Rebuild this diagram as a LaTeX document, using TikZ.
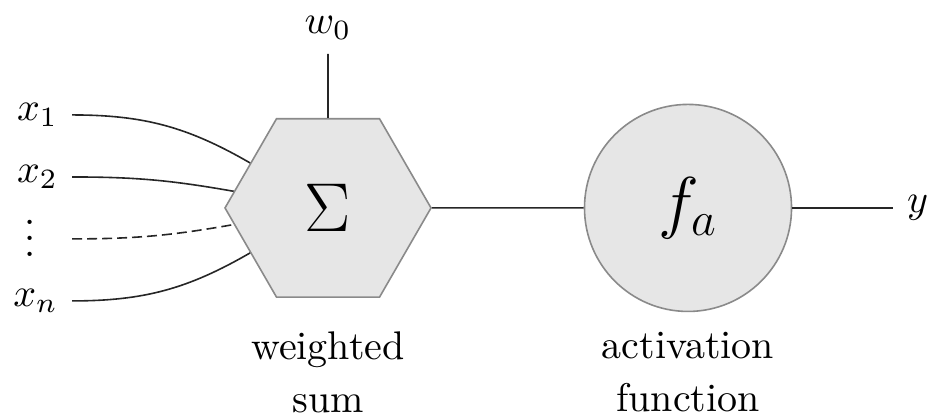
\documentclass[tikz,border=0pt]{standalone}
\usepackage{amsmath}
\usepackage{tikz}
\usetikzlibrary{shapes.geometric,positioning}
\definecolor{cellfill}{HTML}{E6E6E6}
\definecolor{celledge}{HTML}{8A8A8A}
\tikzset{sumnode/.style={regular polygon,regular polygon sides=6,minimum size=1.81cm,inner sep=0pt,draw=celledge,fill=cellfill,font=\fontsize{18.5}{22}\selectfont},
  actnode/.style={circle,minimum size=1.819cm,inner sep=0pt,draw=celledge,fill=cellfill,font=\fontsize{18.5}{22}\selectfont},
  lbltext/.style={align=center,font=\fontsize{10}{13.4}\selectfont},
  wire/.style={draw=black!85}}

\begin{document}
\begin{tikzpicture}
\useasboundingbox (-2.882,-1.836) rectangle (5.298,1.827);
\node[sumnode] (sigma) at (0,0) {$\Sigma$};
\node[actnode] (fa) at (3.163,0) {$f_a$};
\node (w0) at (0,1.58) {$w_0$};
\node[anchor=west] (y) at (4.964,0) {$y$};
\node[anchor=east] (x1) at (-2.249,0.817) {$x_1$};
\node[anchor=east] (x2) at (-2.249,0.272) {$x_2$};
\node[inner sep=0pt] (dots) at (-2.618,-0.43) {\smash{$\vdots$}};
\coordinate (xd) at (-2.249,-0.272);
\node[anchor=east] (xn) at (-2.249,-0.817) {$x_n$};
\node[lbltext,anchor=north] (sumlbl) at (0,-0.96) {weighted\\sum};
\node[lbltext] (actlbl) at (fa |- sumlbl) {activation\\function};
% inputs
\draw[wire] (x1) to[out=0,in=150] (sigma.150);
\draw[wire] (x2) to[out=0,in=170] (sigma.170);
\draw[wire,dash pattern=on 2.5pt off 1.25pt] (xd) to[out=0,in=190] (sigma.190);
\draw[wire] (xn) to[out=0,in=210] (sigma.210);
% bias and output
\draw[wire] (w0) -- (sigma);
\draw[wire] (sigma) -- (fa);
\draw[wire] (fa) -- (y);
\end{tikzpicture}
\end{document}
